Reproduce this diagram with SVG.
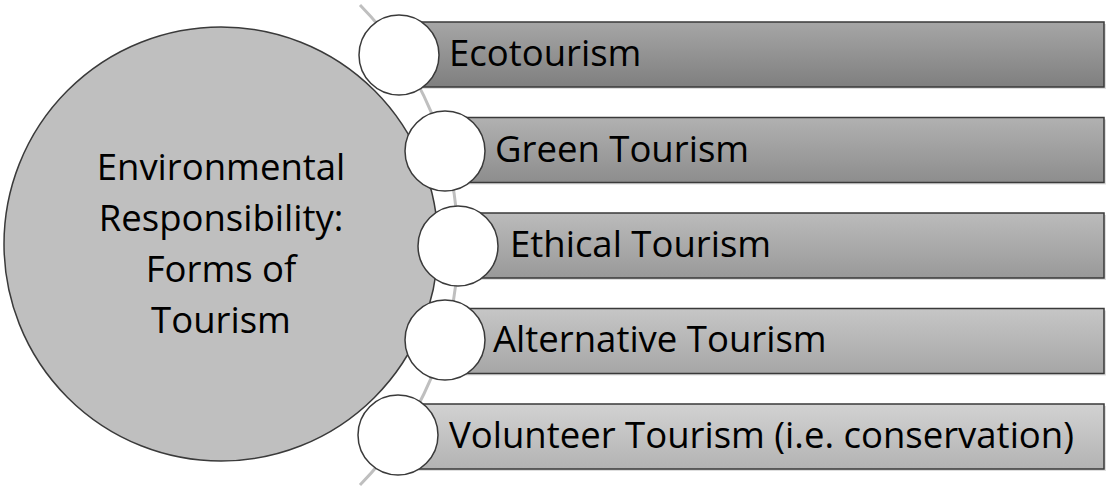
<svg xmlns="http://www.w3.org/2000/svg" width="1106" height="487" viewBox="0 0 1106 487">
<style>
.t{font-family:"Open Sans","Liberation Sans",sans-serif;font-size:36.5px;fill:#000}
.bar{stroke:#3a3a3a;stroke-width:1.5}
.dot{fill:#fff;stroke:#3a3a3a;stroke-width:1.5}
.shadow{fill:#dedede}
</style>
<defs>
<linearGradient id="g1" x1="0" y1="0" x2="0" y2="1"><stop offset="0" stop-color="#a6a6a6"/><stop offset="1" stop-color="#7f7f7f"/></linearGradient>
<linearGradient id="g2" x1="0" y1="0" x2="0" y2="1"><stop offset="0" stop-color="#b1b1b1"/><stop offset="1" stop-color="#8d8d8d"/></linearGradient>
<linearGradient id="g3" x1="0" y1="0" x2="0" y2="1"><stop offset="0" stop-color="#bbbbbb"/><stop offset="1" stop-color="#999999"/></linearGradient>
<linearGradient id="g4" x1="0" y1="0" x2="0" y2="1"><stop offset="0" stop-color="#c6c6c6"/><stop offset="1" stop-color="#a6a6a6"/></linearGradient>
<linearGradient id="g5" x1="0" y1="0" x2="0" y2="1"><stop offset="0" stop-color="#d2d2d2"/><stop offset="1" stop-color="#b3b3b3"/></linearGradient>
</defs>
<rect width="1106" height="487" fill="#fff"/>
<g id="connectors">
<path d="M360,5 A343,343 0 0,1 360,485" fill="none" stroke="#bfbfbf" stroke-width="3"/>
</g>
<g id="center">
<circle cx="221" cy="244" r="217" fill="#bfbfbf" stroke="#3a3a3a" stroke-width="1.5"/>
<text class="t" text-anchor="middle" x="221" y="180">Environmental</text>
<text class="t" text-anchor="middle" x="221" y="231">Responsibility:</text>
<text class="t" text-anchor="middle" x="221" y="282">Forms of</text>
<text class="t" text-anchor="middle" x="221" y="333">Tourism</text>
</g>
<g id="item1">
<rect class="shadow" x="401" y="24" width="705" height="65"/>
<rect class="bar" x="399" y="22" width="705" height="65" fill="url(#g1)"/>
<circle class="dot" cx="399" cy="55" r="40"/>
<text class="t" x="449" y="66">Ecotourism</text>
</g>
<g id="item2">
<rect class="shadow" x="447" y="119.5" width="659" height="65"/>
<rect class="bar" x="445" y="117.5" width="659" height="65" fill="url(#g2)"/>
<circle class="dot" cx="445" cy="151" r="40"/>
<text class="t" x="495" y="162">Green Tourism</text>
</g>
<g id="item3">
<rect class="shadow" x="460" y="215" width="646" height="65"/>
<rect class="bar" x="458" y="213" width="646" height="65" fill="url(#g3)"/>
<circle class="dot" cx="458" cy="246" r="40"/>
<text class="t" x="510" y="257">Ethical Tourism</text>
</g>
<g id="item4">
<rect class="shadow" x="447" y="310.5" width="659" height="65"/>
<rect class="bar" x="445" y="308.5" width="659" height="65" fill="url(#g4)"/>
<circle class="dot" cx="445" cy="340" r="40"/>
<text class="t" x="493" y="352">Alternative Tourism</text>
</g>
<g id="item5">
<rect class="shadow" x="400" y="406" width="706" height="65"/>
<rect class="bar" x="398" y="404" width="706" height="65" fill="url(#g5)"/>
<circle class="dot" cx="398" cy="435" r="40"/>
<text class="t" x="449" y="448">Volunteer Tourism (i.e. conservation)</text>
</g>
</svg>
